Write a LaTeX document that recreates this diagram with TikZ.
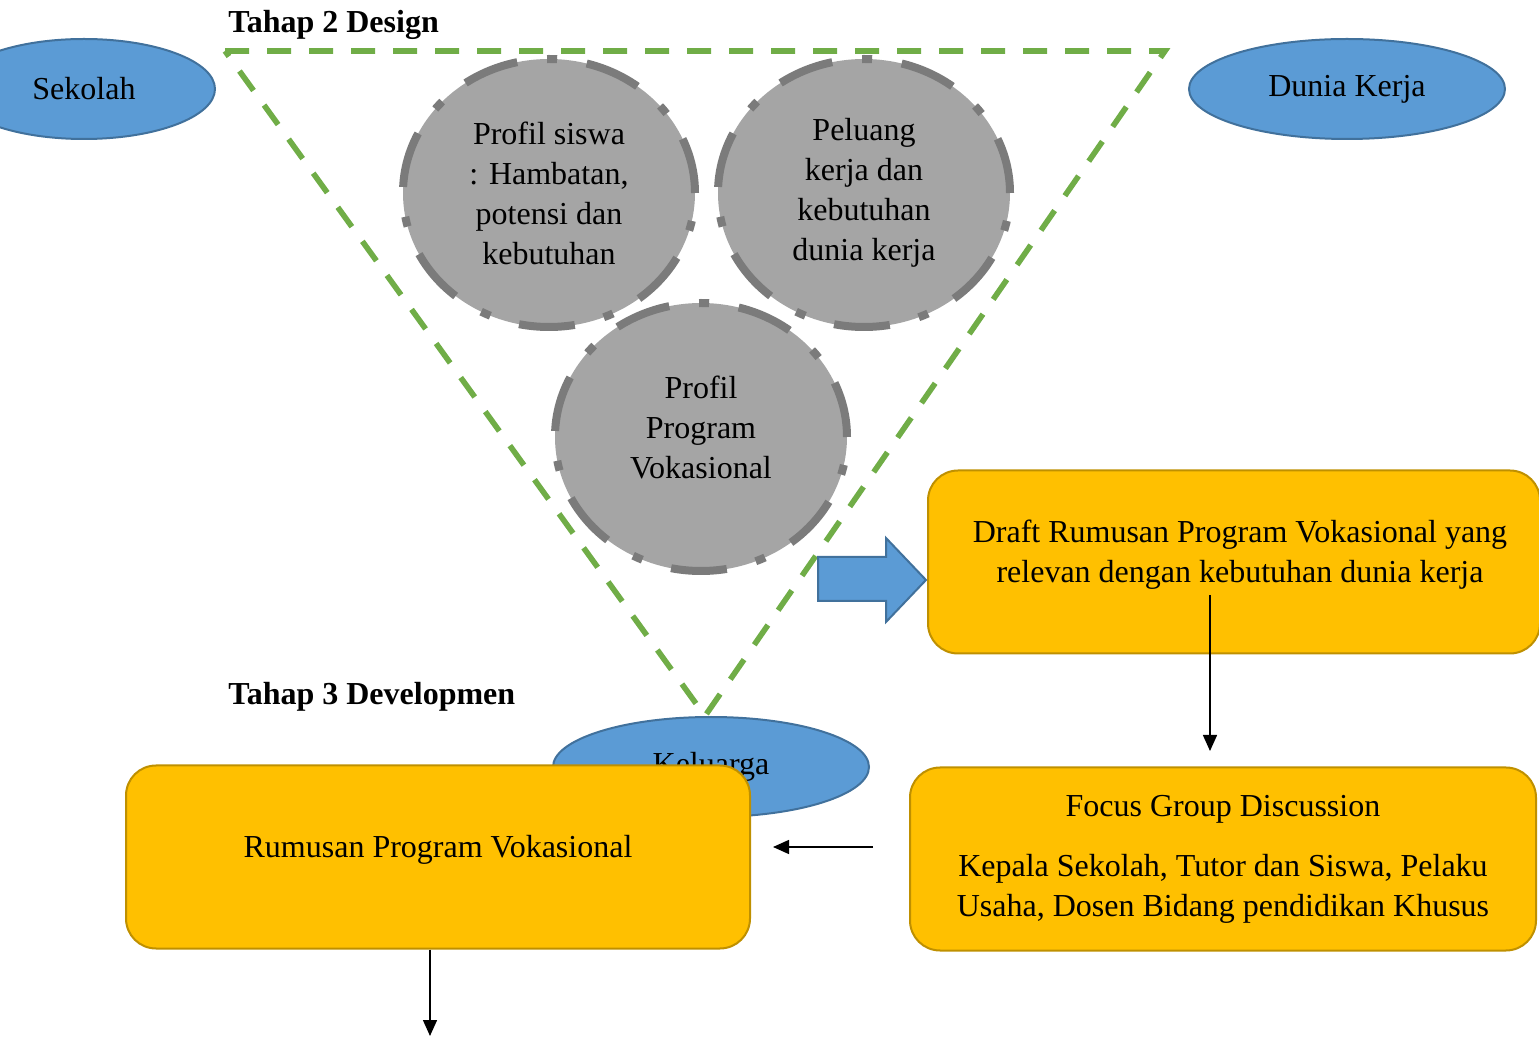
\documentclass[tikz,border=0pt]{standalone}
\usepackage{fontspec}
\setmainfont{Liberation Serif}
\usetikzlibrary{shapes.geometric,arrows.meta}

\definecolor{partyblue}{HTML}{5B9BD5}
\definecolor{partyline}{HTML}{41719C}
\definecolor{focusgray}{HTML}{A5A5A5}
\definecolor{focusline}{HTML}{7B7B7B}
\definecolor{trimgreen}{HTML}{70AD47}
\definecolor{boxyellow}{HTML}{FFC000}
\definecolor{boxline}{HTML}{BF9000}

\begin{document}
\fontsize{16}{20}\selectfont
\begin{tikzpicture}[x=0.5pt,y=-0.5pt,
  party/.style={ellipse,draw=partyline,fill=partyblue,line width=1pt,minimum height=50pt,inner sep=0pt},
  focus/.style={ellipse,draw=focusline,fill=focusgray,line width=4pt,
    dash pattern=on 28pt off 15pt on 5pt off 15pt,minimum width=146pt,minimum height=134pt,
    align=center,inner sep=0pt},
  stagebox/.style={draw=boxline,fill=boxyellow,line width=1pt,rounded corners=15pt,
    align=center,minimum height=91.5pt},
  boxtext/.style={align=center,yshift=3.5pt},
  flow/.style={-{Triangle[length=8pt,width=7pt]},line width=0.75pt}]
\useasboundingbox (0,0) rectangle (1539,1037);
% design stage
\node[font=\bfseries,anchor=west,inner sep=0pt] (design) at (228,25) {Tahap 2 Design};
\draw[trimgreen,line width=2.8pt,dash pattern=on 12pt off 9pt] (225,51) -- (1165,51) -- (705,716) -- cycle;
\node[focus] (siswa) at (549,193) {Profil siswa\\: Hambatan,\\potensi dan\\kebutuhan};
\node[focus] (peluang) at (864,193) {Peluang\\kerja dan\\kebutuhan\\dunia kerja};
\node[focus,label={[align=center,yshift=5pt]center:Profil\\Program\\Vokasional}] (vokasi) at (701,437) {};
\node[party,minimum width=131pt] (sekolah) at (84,89) {Sekolah};
\node[party,minimum width=158pt] (dunia) at (1347,89) {Dunia Kerja};
\node[party,minimum width=158pt] (keluarga) at (711,767) {Keluarga};
\fill[partyblue,draw=partyline,line width=1pt] (818,557) -- (886,557) -- (886,538) -- (926,580)
  -- (886,622) -- (886,601) -- (818,601) -- cycle;
% development stage
\node[font=\bfseries,anchor=west,inner sep=0pt] (develop) at (228,697) {Tahap 3 Developmen};
\node[stagebox,minimum width=306pt,
  label={[boxtext,xshift=3pt]center:Draft Rumusan Program Vokasional yang\\relevan dengan kebutuhan dunia kerja}] (draft) at (1234,562) {};
\node[stagebox,minimum width=313pt] (fgd) at (1223,859) {Focus Group Discussion\\[10pt]Kepala Sekolah, Tutor dan Siswa, Pelaku\\Usaha, Dosen Bidang pendidikan Khusus};
\node[stagebox,minimum width=312pt,label={[boxtext]center:Rumusan Program Vokasional}] (rumus) at (438,857) {};
\coordinate (draftout) at (1210,595);
\coordinate (fgdin) at (1210,751);
\coordinate (fgdout) at (873,847);
\coordinate (rumusin) at (773,847);
\coordinate (next) at (430,1036);
\draw[flow] (draftout) -- (fgdin);
\draw[flow] (fgdout) -- (rumusin);
\draw[flow] (rumus.south -| next) -- (next);
\end{tikzpicture}
\end{document}
